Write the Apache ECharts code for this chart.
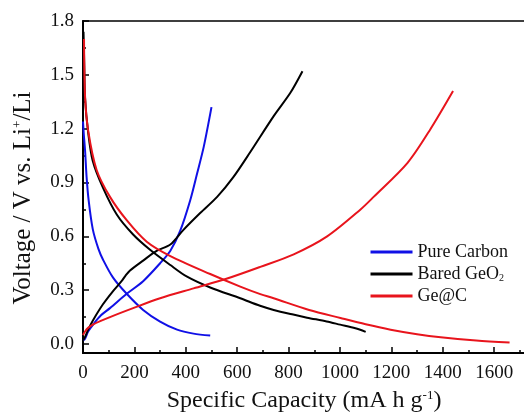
<!DOCTYPE html>
<html>
<head>
<meta charset="utf-8">
<script src="https://cdn.jsdelivr.net/npm/echarts@6/dist/echarts.min.js"></script>
<style>
  html, body { margin: 0; padding: 0; background: #fff; }
  #chart { width: 524px; height: 413px; }
</style>
</head>
<body>
<div id="chart"></div>
<script>
// Galvanostatic discharge / charge profiles: [capacity (mA h g-1), voltage (V)]
const pureCarbonDischarge = [[0,1.24],[3,1.17],[8,1.08],[14,0.93],[22,0.8],[38,0.64],[60,0.53],[78,0.47],[117,0.37],[170,0.28],[234,0.19],[300,0.125],[366,0.08],[430,0.058],[495,0.047]];
const pureCarbonCharge    = [[0,0.02],[8,0.03],[20,0.07],[40,0.11],[70,0.16],[105,0.2],[170,0.28],[234,0.35],[300,0.45],[340,0.52],[378,0.63],[417,0.8],[444,0.95],[470,1.1],[500,1.32]];
const bareGeO2Discharge   = [[2,1.74],[5,1.55],[8,1.37],[20,1.18],[38,1.02],[78,0.87],[132,0.72],[195,0.61],[261,0.525],[340,0.44],[405,0.375],[495,0.315],[612,0.255],[689,0.213],[742,0.19],[818,0.164],[872,0.147],[948,0.126],[1001,0.108],[1060,0.088],[1100,0.068]];
const bareGeO2Charge      = [[0,0.02],[8,0.04],[20,0.08],[38,0.13],[77,0.22],[117,0.295],[150,0.35],[165,0.38],[183,0.41],[234,0.465],[288,0.52],[340,0.555],[390,0.635],[456,0.73],[522,0.82],[585,0.93],[651,1.07],[742,1.27],[807,1.4],[854,1.52]];
const geCDischarge        = [[4,1.7],[8,1.38],[20,1.19],[53,0.97],[105,0.82],[170,0.69],[248,0.57],[340,0.49],[495,0.39],[612,0.32],[690,0.278],[742,0.255],[880,0.19],[1002,0.145],[1100,0.11],[1197,0.08],[1300,0.055],[1392,0.038],[1530,0.02],[1660,0.008]];
const geCCharge           = [[0,0.05],[8,0.07],[20,0.09],[40,0.11],[105,0.15],[195,0.2],[300,0.255],[430,0.31],[561,0.365],[690,0.43],[820,0.5],[950,0.6],[1080,0.75],[1131,0.82],[1263,1.01],[1353,1.2],[1440,1.41]];

const seriesNames = ['Pure Carbon', 'Bared GeO2', 'Ge@C'];
const seriesColors = ['#1010e6', '#000000', '#e8141c'];

const xTickInterval = 200;
const yMajorTicks = [0, 0.3, 0.6, 0.9, 1.2, 1.5, 1.8];
const yMinorTicks = [0.15, 0.45, 0.75, 1.05, 1.35, 1.65];

const FONT = '"Liberation Serif", "Times New Roman", serif';

function curve(name, color, data) {
  return {
    name: name,
    type: 'line',
    data: data,
    showSymbol: false,
    smooth: 0.3,
    color: color,
    lineStyle: { width: 2, color: color },
    xAxisIndex: 0,
    yAxisIndex: 0,
    z: 3
  };
}

const chart = echarts.init(document.getElementById('chart'), null, { renderer: 'canvas' });

chart.setOption({
  animation: false,
  backgroundColor: '#ffffff',
  grid: {
    left: 83, right: -1, top: 21, bottom: 60,
    outerBoundsMode: 'none',
    show: true, borderColor: '#000', borderWidth: 1.5
  },
  legend: {
    right: 11, top: 238,
    orient: 'vertical',
    itemWidth: 42, itemHeight: 3, itemGap: 4,
    icon: 'rect',
    data: seriesNames,
    textStyle: {
      fontFamily: FONT, fontSize: 18, color: '#111',
      rich: { sub: { fontFamily: FONT, fontSize: 10, verticalAlign: 'bottom', padding: [8, 0, 0, 0], color: '#111' } }
    },
    formatter: function (n) { return n === 'Bared GeO2' ? 'Bared GeO{sub|2}' : n; }
  },
  xAxis: [{
    type: 'value', min: 0, max: 1720, interval: xTickInterval,
    name: 'Specific Capacity (mA h g{sup|-1})',
    nameLocation: 'middle', nameGap: 36,
    nameTextStyle: {
      fontFamily: FONT, fontSize: 24, color: '#111',
      rich: { sup: { fontFamily: FONT, fontSize: 13, verticalAlign: 'top', padding: [0, 0, 11, 0], color: '#111' } }
    },
    axisLine: { show: true, onZero: false, lineStyle: { color: '#000', width: 2 } },
    axisTick: { show: true, inside: true, length: 6, lineStyle: { color: '#000', width: 1.5 } },
    minorTick: { show: true, splitNumber: 2, length: 3, lineStyle: { color: '#000', width: 1.5 } },
    axisLabel: {
      fontFamily: FONT, fontSize: 19, color: '#111', margin: 11, showMaxLabel: false,
      formatter: function (v) { return String(v); }
    },
    splitLine: { show: false }
  }],
  yAxis: [{
    type: 'value', min: -0.05, max: 1.8,
    name: 'Voltage / V vs. Li{sup|+}/Li',
    nameLocation: 'middle', nameGap: 47,
    nameTextStyle: {
      fontFamily: FONT, fontSize: 25, color: '#111', padding: [0, 22, 0, 0],
      rich: { sup: { fontFamily: FONT, fontSize: 13, verticalAlign: 'top', padding: [0, 0, 12, 0], color: '#111' } }
    },
    axisLine: { show: true, onZero: false, lineStyle: { color: '#000', width: 2 } },
    axisTick: { show: true, inside: true, length: 6, customValues: yMajorTicks, lineStyle: { color: '#000', width: 1.5 } },
    axisLabel: {
      fontFamily: FONT, fontSize: 19, color: '#111', margin: 9,
      customValues: yMajorTicks,
      formatter: function (v) { return v.toFixed(1); }
    },
    splitLine: { show: false }
  }, {
    // overlay axis carrying only the short intermediate ticks
    type: 'value', min: -0.05, max: 1.8, position: 'left',
    axisLine: { show: false },
    axisTick: { show: true, inside: true, length: 3, customValues: yMinorTicks, lineStyle: { color: '#000', width: 1.5 } },
    axisLabel: { show: false, customValues: yMinorTicks },
    splitLine: { show: false }
  }],
  series: [
    curve(seriesNames[0], seriesColors[0], pureCarbonDischarge),
    curve(seriesNames[0], seriesColors[0], pureCarbonCharge),
    curve(seriesNames[1], seriesColors[1], bareGeO2Discharge),
    curve(seriesNames[1], seriesColors[1], bareGeO2Charge),
    curve(seriesNames[2], seriesColors[2], geCDischarge),
    curve(seriesNames[2], seriesColors[2], geCCharge)
  ]
});
</script>
</body>
</html>
